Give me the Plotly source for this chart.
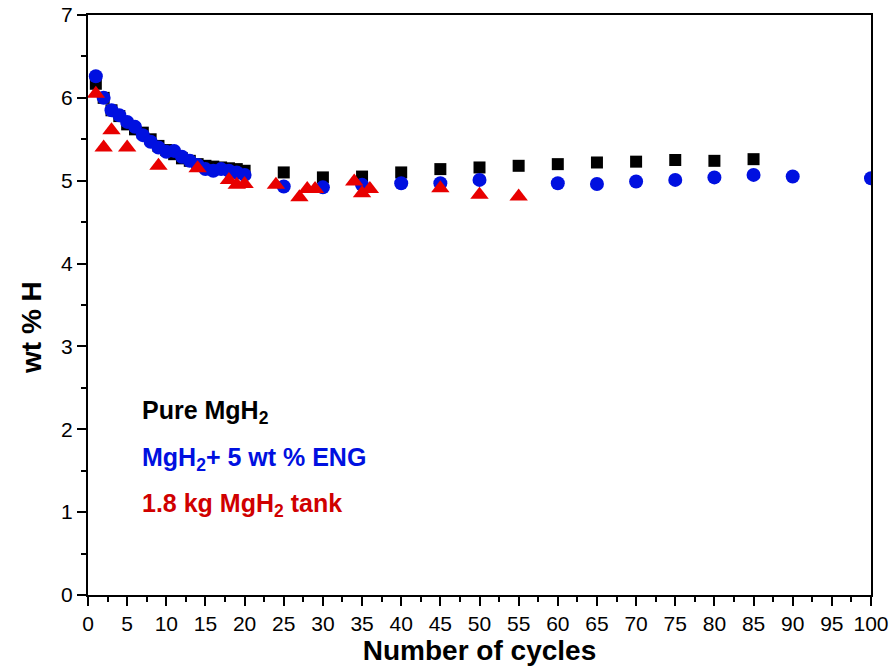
import plotly.graph_objects as go

# Pure MgH2 (black squares)
pure_cycles = list(range(1, 21)) + [25, 30, 35, 40, 45, 50, 55, 60, 65, 70, 75, 80, 85]
pure_wt = [6.17, 6.00, 5.85, 5.78, 5.68, 5.62, 5.58, 5.50, 5.42, 5.37, 5.32, 5.27, 5.24, 5.20,
           5.18, 5.17, 5.16, 5.15, 5.14, 5.12,
           5.10, 5.04, 5.05, 5.10, 5.14, 5.16, 5.18, 5.20, 5.22, 5.23, 5.25, 5.24, 5.26]

# MgH2 + 5 wt % ENG (blue circles)
eng_cycles = list(range(1, 21)) + [25, 30, 35, 40, 45, 50, 60, 65, 70, 75, 80, 85, 90, 100]
eng_wt = [6.26, 6.00, 5.85, 5.79, 5.71, 5.65, 5.55, 5.47, 5.40, 5.35, 5.36, 5.29, 5.24, 5.19,
          5.14, 5.12, 5.14, 5.12, 5.10, 5.07,
          4.93, 4.92, 4.95, 4.97, 4.97, 5.01, 4.97, 4.96, 4.99, 5.01, 5.04, 5.07, 5.05, 5.03]

# 1.8 kg MgH2 tank (red triangles)
tank_cycles = [1, 2, 3, 5, 9, 14, 18, 19, 20, 24, 27, 28, 29, 34, 35, 36, 45, 50, 55]
tank_wt = [6.05, 5.40, 5.61, 5.40, 5.18, 5.15, 5.01, 4.95, 4.96, 4.95, 4.80, 4.90, 4.90,
           4.99, 4.85, 4.90, 4.91, 4.83, 4.81]

x_ticks = list(range(0, 101, 5))
y_ticks = list(range(0, 8))

fig = go.Figure()
fig.add_trace(go.Scatter(x=pure_cycles, y=pure_wt, mode="markers", name="Pure MgH2",
                         marker=dict(symbol="square", size=12, color="black")))
fig.add_trace(go.Scatter(x=eng_cycles, y=eng_wt, mode="markers", name="MgH2+ 5 wt % ENG",
                         marker=dict(symbol="circle", size=14, color="#0010E0")))
fig.add_trace(go.Scatter(x=tank_cycles, y=tank_wt, mode="markers", name="1.8 kg MgH2 tank",
                         marker=dict(symbol="triangle-up", size=16, color="#E80000")))

tickfont = dict(family="Liberation Sans Narrow, Arial Narrow, Liberation Sans, Arial", size=21, color="black")
xtitlefont = dict(family="Liberation Sans, Arial", size=28, color="black")

L, R, T, B = 88, 23, 15, 72
W, H = 894, 667
pw, ph = W - L - R, H - T - B

fig.update_layout(
    width=W, height=H,
    margin=dict(l=L, r=R, t=T, b=B, autoexpand=False),
    paper_bgcolor="white", plot_bgcolor="white",
    showlegend=False,
    xaxis=dict(range=[0, 100], tickvals=x_ticks, ticktext=[str(v) for v in x_ticks],
               ticks="outside", ticklen=9, tickwidth=1.5, tickcolor="black",
               showline=True, linecolor="black", linewidth=2, mirror=True, automargin=False,
               showgrid=False, zeroline=False, tickfont=tickfont,
               minor=dict(dtick=2.5, tick0=0, ticks="outside", ticklen=5, tickcolor="black", tickwidth=1.5, showgrid=False),
               title=dict(text="<b>Number of cycles</b>", font=xtitlefont, standoff=1)),
    yaxis=dict(range=[0, 7], tickvals=y_ticks, ticktext=[str(v) for v in y_ticks],
               ticks="outside", ticklen=9, tickwidth=1.5, tickcolor="black",
               showline=True, linecolor="black", linewidth=2, mirror=True, automargin=False,
               showgrid=False, zeroline=False, tickfont=tickfont,
               minor=dict(dtick=0.5, tick0=0, ticks="outside", ticklen=5, tickcolor="black", tickwidth=1.5, showgrid=False)),
)

# y-axis title placed as a rotated annotation (sits below the plot's centre in the reference)
fig.add_annotation(text="<b>wt % H</b>", xref="paper", yref="paper",
                   x=(31 - L) / pw, y=1 - (328 - T) / ph, textangle=-90,
                   xanchor="center", yanchor="middle", showarrow=False,
                   font=dict(family="Liberation Sans, Arial", size=28, color="black"))

ann_font = "Liberation Sans, Arial"
labels = [("<b>Pure MgH<sub>2</sub></b>", "black", 412),
          ("<b>MgH<sub>2</sub>+ 5 wt % ENG</b>", "#0010E0", 459),
          ("<b>1.8 kg MgH<sub>2</sub> tank</b>", "#D00000", 505)]
for text, color, py in labels:
    fig.add_annotation(text=text, xref="paper", yref="paper",
                       x=(140 - L) / pw, y=1 - (py - T) / ph,
                       xanchor="left", yanchor="middle", showarrow=False,
                       font=dict(family=ann_font, size=25, color=color))

fig.write_html("out.html", config={"displayModeBar": False},
               post_script="document.body.style.margin='0';")
